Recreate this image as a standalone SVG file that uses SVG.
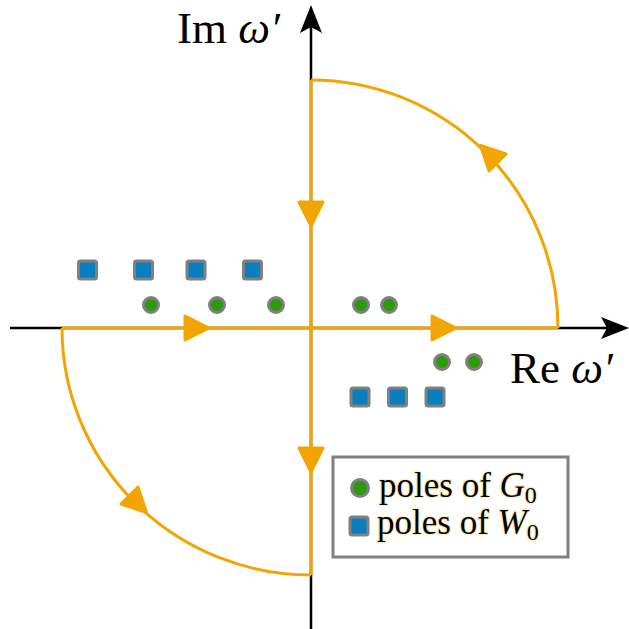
<svg xmlns="http://www.w3.org/2000/svg" width="629" height="629" viewBox="0 0 629 629">
<style>
.ax{stroke:#000;stroke-width:2.5;fill:none}
.ah{fill:#000;stroke:none}
.c{stroke:#f2a500;stroke-width:3;fill:none}
.oa{fill:#f2a500;stroke:#f2a500;stroke-width:3;stroke-linejoin:round}
.g{fill:#2e9a0a;stroke:#808080;stroke-width:3}
.b{fill:#0a7fc0;stroke:#808080;stroke-width:3;stroke-linejoin:round}
.lt{stroke:#fdecc0;stroke-width:2.5;paint-order:stroke;stroke-linejoin:round}
</style>
<defs>
<polygon id="arr" points="12,0 -12,-12 -12,12"/>
</defs>
<g id="axes">
<line class="ax" x1="311" y1="629" x2="311" y2="26"/>
<path class="ah" d="M311,5 L322,33 L311,27 L300,33 Z"/>
<line class="ax" x1="10" y1="328" x2="608" y2="328"/>
<path class="ah" d="M629,328 L601,317 L607,328 L601,339 Z"/>
</g>
<g id="connectors">
<line class="c" x1="62" y1="328" x2="558" y2="328"/>
<line class="c" x1="311" y1="80" x2="311" y2="575"/>
<path class="c" d="M558,328 A247,248 0 0 0 311,80"/>
<path class="c" d="M62,328 A249,247 0 0 0 311,575"/>
<use href="#arr" class="oa" transform="translate(197,328)"/>
<use href="#arr" class="oa" transform="translate(444,328)"/>
<use href="#arr" class="oa" transform="translate(311,214) rotate(90)"/>
<use href="#arr" class="oa" transform="translate(311,460) rotate(90)"/>
<use href="#arr" class="oa" transform="translate(489,154) rotate(225)"/>
<use href="#arr" class="oa" transform="translate(138,504) rotate(45)"/>
</g>
<g id="labels" font-family="'Liberation Serif', 'Times New Roman', serif" fill="#000">
<text x="177" y="43" font-size="45" font-family="Liberation Serif">Im <tspan font-style="italic">ω′</tspan></text>
<text x="510" y="383" font-size="45" font-family="Liberation Serif">Re <tspan font-style="italic">ω′</tspan></text>
</g>
<g id="poles-W0">
<rect class="b" x="78.5" y="261" width="18" height="18" rx="2"/>
<rect class="b" x="134.5" y="261" width="18" height="18" rx="2"/>
<rect class="b" x="187" y="261" width="18" height="18" rx="2"/>
<rect class="b" x="243.5" y="261" width="18" height="18" rx="2"/>
<rect class="b" x="351" y="388" width="18" height="18" rx="2"/>
<rect class="b" x="388.5" y="388" width="18" height="18" rx="2"/>
<rect class="b" x="426" y="388" width="18" height="18" rx="2"/>
</g>
<g id="poles-G0">
<circle class="g" cx="151" cy="305" r="7.5"/>
<circle class="g" cx="217" cy="305" r="7.5"/>
<circle class="g" cx="276" cy="305" r="7.5"/>
<circle class="g" cx="361" cy="305" r="7.5"/>
<circle class="g" cx="389" cy="305" r="7.5"/>
<circle class="g" cx="442" cy="362" r="7.5"/>
<circle class="g" cx="474" cy="362" r="7.5"/>
</g>
<g id="legend" font-family="Liberation Serif" fill="#000">
<rect x="333" y="457" width="235" height="100" fill="#fff" stroke="#808080" stroke-width="3"/>
<circle class="g" cx="360" cy="488" r="8.5"/>
<rect class="b" x="350" y="517" width="18" height="18" rx="2"/>
<text class="lt" x="379" y="497" font-size="35">poles of <tspan font-style="italic">G</tspan><tspan font-size="24" dy="6">0</tspan></text>
<text class="lt" x="377" y="534" font-size="35">poles of <tspan font-style="italic">W</tspan><tspan font-size="24" dy="6">0</tspan></text>
</g>
</svg>
